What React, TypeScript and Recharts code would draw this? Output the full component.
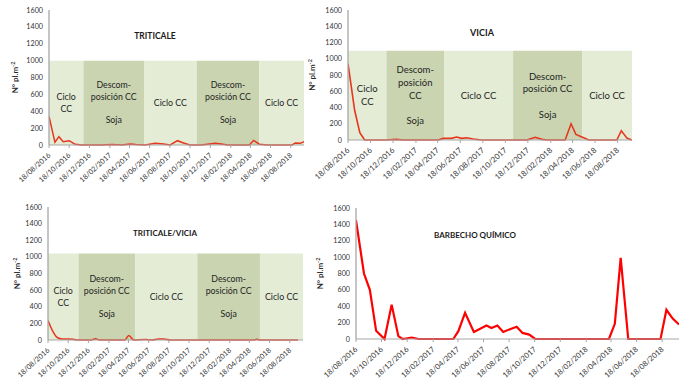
import React from 'react';
import { LineChart, Line, XAxis, YAxis, ReferenceArea } from 'recharts';

const FONT = 'Lato, "Open Sans", sans-serif';

// ---------- shared axis data ----------
const xTickLabels = [
  '18/08/2016', '18/10/2016', '18/12/2016', '18/02/2017', '18/04/2017', '18/06/2017', '18/08/2017',
  '18/10/2017', '18/12/2017', '18/02/2018', '18/04/2018', '18/06/2018', '18/08/2018',
];
const yTicks = [0, 200, 400, 600, 800, 1000, 1200, 1400, 1600];
const axisStart = '18/08/2016';

// ---------- TRITICALE ----------
const triticaleDates = [
  '18/08/2016', '05/09/2016', '17/09/2016', '30/09/2016', '18/10/2016', '05/11/2016', '25/11/2016',
  '26/12/2016', '25/01/2017', '24/02/2017', '26/03/2017', '20/04/2017', '07/05/2017', '04/06/2017',
  '05/07/2017', '30/07/2017', '19/08/2017', '10/09/2017', '28/09/2017', '18/10/2017', '21/11/2017',
  '02/01/2018', '20/01/2018', '09/02/2018', '21/03/2018', '15/04/2018', '28/04/2018', '15/05/2018',
  '09/06/2018', '19/07/2018', '22/08/2018', '01/09/2018', '16/09/2018', '27/09/2018',
];
const triticaleValues = [
  340, 32, 99, 40, 51, 8, 0,
  0, 0, 5, 0, 12, 5, 0,
  20, 12, 0, 51, 24, 0, 0,
  20, 12, 0, 0, 0, 55, 10,
  0, 0, 0, 24, 20, 40,
];
const triticalePeriods = ['18/08/2016', '30/11/2016', '01/06/2017', '07/11/2017', '15/05/2018', '27/09/2018'];
const triticalePeriodLabels = [
  ['Ciclo', 'CC'],
  ['Descom-', 'posición CC', '', 'Soja'],
  ['Ciclo CC'],
  ['Descom-', 'posición CC', '', 'Soja'],
  ['Ciclo CC'],
];
const triticaleTop = 1000;
const triticaleEnd = '27/09/2018';

// ---------- VICIA ----------
const viciaDates = [
  '18/08/2016', '05/09/2016', '19/09/2016', '02/10/2016', '01/11/2016', '30/11/2016', '27/12/2016',
  '14/01/2017', '14/02/2017', '16/03/2017', '19/04/2017', '03/05/2017', '25/05/2017', '08/06/2017',
  '22/06/2017', '05/07/2017', '23/07/2017', '15/08/2017', '22/09/2017', '01/11/2017', '15/12/2017',
  '07/01/2018', '25/01/2018', '09/02/2018', '11/03/2018', '29/03/2018', '14/04/2018', '27/04/2018',
  '18/05/2018', '01/06/2018', '09/07/2018', '16/08/2018', '28/08/2018', '13/09/2018', '26/09/2018',
];
const viciaValues = [
  940, 366, 89, 0, 0, 0, 8,
  0, 0, 0, 0, 20, 20, 37,
  20, 28, 12, 0, 0, 0, 0,
  33, 8, 0, 0, 0, 200, 69,
  28, 0, 0, 0, 114, 20, 0,
];
const viciaPeriods = ['18/08/2016', '30/11/2016', '05/05/2017', '08/11/2017', '14/05/2018', '26/09/2018'];
const viciaPeriodLabels = [
  ['Ciclo', 'CC'],
  ['Descom-', 'posición', 'CC', '', 'Soja'],
  ['Ciclo CC'],
  ['Descom-', 'posición CC', '', 'Soja'],
  ['Ciclo CC'],
];
const viciaTop = 1100;
const viciaEnd = '26/09/2018';

// ---------- TRITICALE/VICIA ----------
const mixDates = [
  '18/08/2016', '01/09/2016', '15/09/2016', '30/09/2016', '20/10/2016', '09/11/2016', '26/11/2016',
  '26/12/2016', '08/01/2017', '21/01/2017', '06/03/2017', '07/04/2017', '19/04/2017', '04/05/2017',
  '08/06/2017', '29/06/2017', '18/07/2017', '02/08/2017', '23/08/2017', '12/10/2017', '11/12/2017',
  '09/02/2018', '10/04/2018', '30/04/2018', '10/05/2018', '20/05/2018', '19/07/2018', '12/09/2018',
];
const mixValues = [
  235, 110, 30, 12, 12, 4, 0,
  0, 16, 0, 0, 0, 55, 0,
  5, 0, 12, 12, 0, 0, 0,
  0, 0, 0, 8, 0, 0, 0,
];
const mixPeriods = ['18/08/2016', '18/11/2016', '08/05/2017', '12/11/2017', '20/05/2018', '27/09/2018'];
const mixPeriodLabels = triticalePeriodLabels;
const mixTop = 1040;
const mixEnd = '27/09/2018';

// ---------- BARBECHO QUÍMICO ----------
const barbechoDates = [
  '18/08/2016', '06/09/2016', '20/09/2016', '05/10/2016', '25/10/2016', '11/11/2016', '27/11/2016',
  '07/12/2016', '29/12/2016', '14/01/2017', '24/02/2017', '07/04/2017', '19/04/2017', '05/05/2017',
  '26/05/2017', '25/06/2017', '07/07/2017', '21/07/2017', '04/08/2017', '20/08/2017', '05/09/2017',
  '19/09/2017', '05/10/2017', '19/10/2017', '11/12/2017', '09/02/2018', '13/04/2018', '27/04/2018',
  '11/05/2018', '29/05/2018', '09/07/2018', '14/08/2018', '28/08/2018', '12/09/2018', '27/09/2018',
];
const barbechoValues = [
  1450, 800, 600, 100, 0, 420, 35,
  0, 18, 0, 0, 0, 95, 320,
  86, 165, 135, 165, 85, 120, 150,
  74, 54, 0, 0, 0, 0, 185,
  990, 0, 0, 0, 357, 250, 177,
];
const barbechoEnd = '27/09/2018';

// ---------- helpers ----------
const parseDate = (s: string) => {
  const [d, m, y] = s.split('/').map(Number);
  return Date.UTC(y, m - 1, d);
};
const fmtDate = (t: number) => {
  const dt = new Date(t);
  const dd = String(dt.getUTCDate()).padStart(2, '0');
  const mm = String(dt.getUTCMonth() + 1).padStart(2, '0');
  return `${dd}/${mm}/${dt.getUTCFullYear()}`;
};
const buildData = (dates: string[], values: number[]) =>
  dates.map((d, i) => ({ t: parseDate(d), v: values[i] }));
const xTicks = xTickLabels.map(parseDate);

const LIGHT = '#E4ECD6';
const DARK = '#CAD4B1';
const AXIS = '#A6A6A6';

const makeXTick = (fontSize: number) => (props: any) => {
  const { x, y, payload } = props;
  const ax = x + 2;
  const ay = y + 8;
  return (
    <text
      x={ax}
      y={ay}
      transform={`rotate(-42, ${ax}, ${ay})`}
      textAnchor="end"
      fontSize={fontSize}
      fill="#333333"
      fontFamily={FONT}
    >
      {fmtDate(payload.value)}
    </text>
  );
};

const makeYLabel = (offsetX: number) => (props: any) => {
  const vb = props.viewBox || {};
  const cx = vb.x + offsetX;
  const cy = vb.y + vb.height / 2;
  return (
    <text
      x={cx}
      y={cy}
      transform={`rotate(-90, ${cx}, ${cy})`}
      textAnchor="middle"
      fontSize={8}
      fill="#262626"
      fontFamily={FONT}
      fontWeight={600}
    >
      N° pl.m<tspan dy={-3} fontSize={5.5}>-2</tspan>
    </text>
  );
};

const makeRegionLabel = (lines: string[], fontSize: number, lineHeight: number) => (props: any) => {
  const vb = props.viewBox || {};
  const cx = vb.x + vb.width / 2;
  const cy = vb.y + vb.height / 2;
  const startY = cy - ((lines.length - 1) * lineHeight) / 2 + fontSize * 0.35;
  return (
    <text textAnchor="middle" fontSize={fontSize} fill="#1f1f1f" fontFamily={FONT}>
      {lines.map((ln, i) => (
        <tspan key={i} x={cx} y={startY + i * lineHeight}>
          {ln}
        </tspan>
      ))}
    </text>
  );
};

type PanelProps = {
  left: number;
  top: number;
  width: number;
  height: number;
  marginTop: number;
  marginRight: number;
  yAxisWidth: number;
  xAxisHeight: number;
  yLabelX: number;
  tickFont: number;
  data: { t: number; v: number }[];
  end: string;
  periods?: string[];
  periodLabels?: string[][];
  periodTop?: number;
  regionFont?: number;
  regionLine?: number;
  lineColor: string;
  lineWidth: number;
  lineType: 'linear' | 'monotone';
  title: string;
  titleX: number;
  titleY: number;
  titleSize: number;
};

const Panel = (p: PanelProps) => (
  <div style={{ position: 'absolute', left: p.left, top: p.top, width: p.width, height: p.height }}>
    <LineChart
      width={p.width}
      height={p.height}
      data={p.data}
      margin={{ top: p.marginTop, right: p.marginRight, left: 0, bottom: 0 }}
    >
      {p.periods &&
        p.periods.slice(0, -1).map((s, i) => (
          <ReferenceArea
            key={i}
            x1={parseDate(s)}
            x2={parseDate(p.periods![i + 1])}
            y1={0}
            y2={p.periodTop}
            fill={i % 2 === 0 ? LIGHT : DARK}
            fillOpacity={1}
            stroke="none"
            ifOverflow="hidden"
            label={makeRegionLabel(p.periodLabels![i], p.regionFont!, p.regionLine!)}
          />
        ))}
      <XAxis
        type="number"
        dataKey="t"
        domain={[parseDate(axisStart), parseDate(p.end)]}
        ticks={xTicks}
        interval={0}
        allowDataOverflow
        height={p.xAxisHeight}
        tick={makeXTick(p.tickFont)}
        tickSize={3}
        tickMargin={0}
        stroke={AXIS}
      />
      <YAxis
        type="number"
        domain={[0, 1600]}
        ticks={yTicks}
        interval={0}
        width={p.yAxisWidth}
        tickLine={false}
        tickSize={4}
        tickMargin={2}
        stroke={AXIS}
        strokeWidth={1.3}
        tick={{ fontSize: 7.2, fill: '#333333', fontFamily: FONT }}
        label={makeYLabel(p.yLabelX)}
      />
      <Line
        type={p.lineType}
        dataKey="v"
        stroke={p.lineColor}
        strokeWidth={p.lineWidth}
        dot={false}
        isAnimationActive={false}
      />
    </LineChart>
    <div
      style={{
        position: 'absolute',
        left: p.titleX,
        top: p.titleY,
        transform: 'translate(-50%, -50%)',
        fontFamily: FONT,
        fontWeight: 700,
        fontSize: p.titleSize,
        color: '#1a1a1a',
        whiteSpace: 'nowrap',
      }}
    >
      {p.title}
    </div>
  </div>
);

export default function App() {
  return (
    <div style={{ position: 'absolute', left: 0, top: 0, width: 695, height: 384, background: '#fff' }}>
      <Panel
        left={0}
        top={0}
        width={310}
        height={190}
        marginTop={10}
        marginRight={6}
        yAxisWidth={49}
        xAxisHeight={45}
        yLabelX={18}
        tickFont={7.2}
        data={buildData(triticaleDates, triticaleValues)}
        end={triticaleEnd}
        periods={triticalePeriods}
        periodLabels={triticalePeriodLabels}
        periodTop={triticaleTop}
        regionFont={8.8}
        regionLine={11.7}
        lineColor="#E8351E"
        lineWidth={1.5}
        lineType="linear"
        title="TRITICALE"
        titleX={155}
        titleY={36}
        titleSize={8.5}
      />
      <Panel
        left={300}
        top={0}
        width={340}
        height={190}
        marginTop={10}
        marginRight={8}
        yAxisWidth={48}
        xAxisHeight={50}
        yLabelX={15}
        tickFont={7.8}
        data={buildData(viciaDates, viciaValues)}
        end={viciaEnd}
        periods={viciaPeriods}
        periodLabels={viciaPeriodLabels}
        periodTop={viciaTop}
        regionFont={9.5}
        regionLine={12.6}
        lineColor="#E8351E"
        lineWidth={1.6}
        lineType="linear"
        title="VICIA"
        titleX={182}
        titleY={32}
        titleSize={9}
      />
      <Panel
        left={0}
        top={197}
        width={310}
        height={187}
        marginTop={10}
        marginRight={7}
        yAxisWidth={48}
        xAxisHeight={44}
        yLabelX={20}
        tickFont={7.2}
        data={buildData(mixDates, mixValues)}
        end={mixEnd}
        periods={mixPeriods}
        periodLabels={mixPeriodLabels}
        periodTop={mixTop}
        regionFont={8.8}
        regionLine={11.7}
        lineColor="#E8351E"
        lineWidth={1.5}
        lineType="monotone"
        title="TRITICALE/VICIA"
        titleX={165}
        titleY={36}
        titleSize={8}
      />
      <Panel
        left={310}
        top={198}
        width={375}
        height={186}
        marginTop={10}
        marginRight={6}
        yAxisWidth={46}
        xAxisHeight={45}
        yLabelX={13}
        tickFont={7.6}
        data={buildData(barbechoDates, barbechoValues)}
        end={barbechoEnd}
        lineColor="#FF0000"
        lineWidth={2.2}
        lineType="linear"
        title="BARBECHO QUÍMICO"
        titleX={165}
        titleY={37}
        titleSize={8}
      />
    </div>
  );
}
